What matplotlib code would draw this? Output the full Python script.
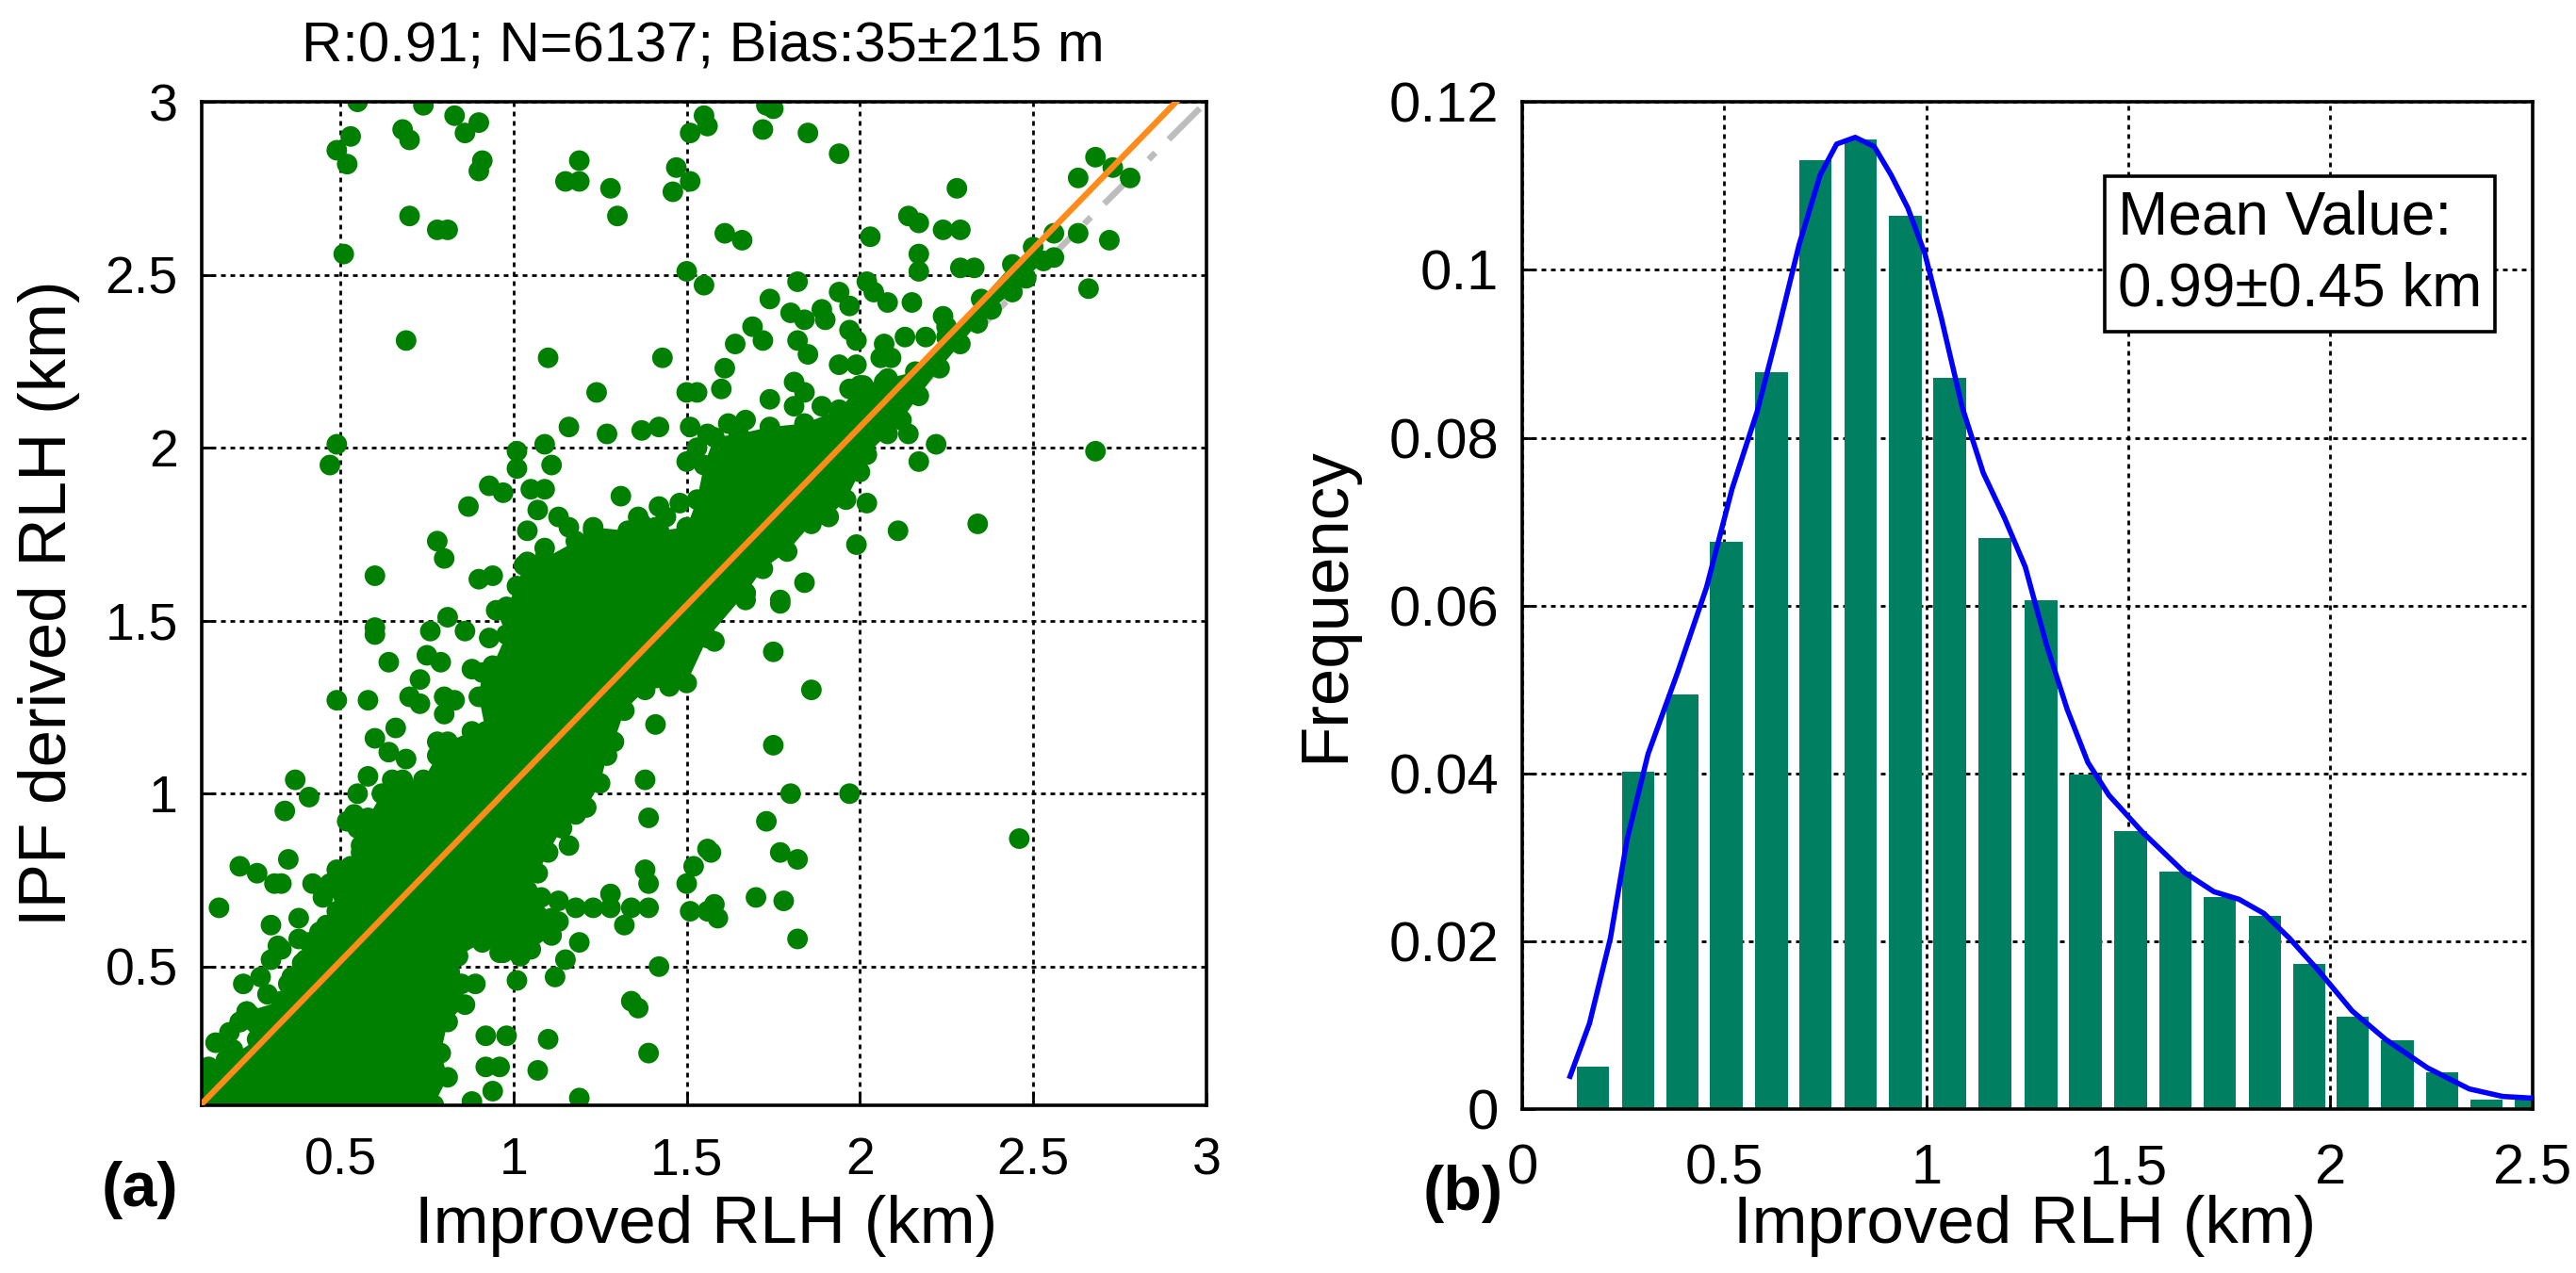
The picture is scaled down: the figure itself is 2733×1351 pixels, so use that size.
import numpy as np
import matplotlib
matplotlib.use("Agg")
import matplotlib.pyplot as plt

FONT = ['Liberation Sans', 'DejaVu Sans']

# ---------- (a) scatter: IPF derived RLH vs improved RLH (km) ----------
# outline of the saturated part of the point cloud (points overlap into a solid mass)
core_x = [0.10, 0.77, 0.81, 0.79, 0.81, 0.86, 0.85, 0.84, 0.91, 0.96, 1.05, 1.11, 1.13,
          1.04, 1.07, 1.10, 1.14, 1.18, 1.21, 1.25, 1.27, 1.29, 1.32, 1.38, 1.45, 1.50,
          1.56, 1.67, 1.72, 1.79, 1.86, 1.91, 1.96, 2.00, 2.02, 2.08, 2.12, 2.17, 2.23,
          2.29, 2.34, 2.38, 2.44, 2.48, 2.53, 2.50,
          2.44, 2.35, 2.25, 2.16, 2.08, 2.00, 1.94, 1.84, 1.74, 1.65, 1.58, 1.55, 1.53, 1.50,
          1.42, 1.33, 1.23, 1.18, 1.09, 1.03, 1.01, 0.98, 0.95, 0.98, 0.94, 0.91, 0.90, 0.92,
          0.88, 0.81, 0.78, 0.74, 0.68, 0.62, 0.58, 0.55, 0.56, 0.53, 0.49, 0.47, 0.49,
          0.46, 0.41, 0.39, 0.35, 0.33, 0.23, 0.21, 0.26, 0.17, 0.12, 0.10]
core_y = [0.10, 0.10, 0.18, 0.25, 0.34, 0.39, 0.45, 0.53, 0.57, 0.54, 0.55, 0.59, 0.63,
          0.72, 0.77, 0.83, 0.90, 0.94, 0.96, 1.03, 1.11, 1.15, 1.24, 1.30, 1.31, 1.32,
          1.45, 1.58, 1.65, 1.70, 1.78, 1.80, 1.85, 1.93, 1.98, 2.04, 2.08, 2.15, 2.23,
          2.30, 2.36, 2.40, 2.45, 2.49, 2.54, 2.58,
          2.53, 2.43, 2.32, 2.22, 2.20, 2.18, 2.11, 2.07, 2.06, 2.04, 2.03, 1.95, 1.85, 1.77,
          1.76, 1.76, 1.77, 1.73, 1.68, 1.66, 1.60, 1.54, 1.53, 1.46, 1.37, 1.35, 1.28, 1.18,
          1.18, 1.15, 1.11, 1.04, 1.04, 1.00, 0.93, 0.90, 0.83, 0.79, 0.78, 0.74, 0.66,
          0.62, 0.57, 0.51, 0.45, 0.40, 0.37, 0.34, 0.29, 0.23, 0.21, 0.17]

# individually visible points
pts_x = [0.55, 0.74, 0.68, 0.70, 0.53, 0.49, 0.52, 0.83, 0.90, 0.86, 0.91, 0.90, 0.70, 0.78,
         0.81, 0.51, 1.19, 1.15, 1.19, 1.28, 1.30, 1.47, 1.51, 1.46, 1.51, 1.55, 1.56, 1.50,
         1.55, 0.69, 1.10, 1.43, 1.24, 1.16, 1.27, 1.37, 1.42, 1.50, 1.53, 1.51, 1.53, 1.50,
         0.49, 0.47, 1.01, 1.01, 1.09, 1.11, 0.93, 0.97, 0.87, 1.05, 1.09, 1.07, 1.13, 1.16,
         1.04, 1.09, 1.31, 1.42, 1.48, 1.44, 1.36, 0.78, 0.80, 0.60, 0.90, 0.94, 1.04, 1.19,
         1.23, 1.26, 1.35, 1.41, 1.42, 1.47, 1.53, 1.56, 1.37, 1.33, 1.44,
         1.73, 1.75, 1.72, 1.85, 1.94, 1.61, 1.66, 1.82, 1.74, 2.03, 2.14, 2.17, 2.28, 2.24,
         2.29, 2.17, 2.17, 2.29, 2.33, 2.68, 2.63, 2.73, 2.78, 2.63, 2.56, 2.72, 2.56, 2.66,
         2.68, 2.34, 2.11, 1.99, 2.02, 2.22, 2.17, 2.14, 1.84, 1.77, 1.67,
         2.02, 2.04, 2.08, 2.15, 2.13, 2.19, 2.07, 2.06, 2.09, 2.24, 2.25, 1.94, 1.97, 1.89,
         1.90, 1.80, 1.84, 1.97, 1.99, 1.82, 1.85, 1.94, 1.99, 1.69, 1.72, 1.64, 1.61, 1.60,
         1.81, 1.84, 1.74, 1.81, 1.89, 1.97, 2.01, 2.07, 1.67, 1.62, 1.56, 1.94,
         0.60, 0.60, 0.64, 0.76, 0.81, 0.86, 0.93, 0.75, 0.79, 0.73, 0.70, 0.73, 0.80, 0.83,
         0.80, 0.88, 0.91, 0.49, 0.58, 0.66, 0.60, 0.64, 0.69, 0.78, 0.58, 0.65, 0.55, 0.54,
         0.52, 0.56, 0.37, 0.41, 0.34, 0.21, 0.26, 0.31, 0.35, 0.33, 0.42, 0.15, 0.30, 0.38,
         0.32, 0.30, 0.27, 0.22, 0.23, 0.21, 0.14, 0.12, 0.17, 0.26, 1.16, 1.39, 1.38, 1.39,
         1.38, 1.41, 1.50, 1.52, 1.56, 1.51, 1.56, 1.19, 1.15, 1.12, 1.42, 1.01, 0.89, 1.34,
         1.36, 0.92, 0.98, 0.92, 0.96, 0.94, 0.88, 1.10, 1.07, 1.19, 1.39, 0.97, 1.02, 1.08,
         1.13, 1.18, 1.23, 1.28, 1.28, 1.34, 1.39, 1.32, 1.11,
         1.58, 1.75, 1.86, 1.75, 1.80, 1.97, 1.73, 1.57, 1.77, 1.82, 1.70, 1.78, 1.58, 1.59,
         1.82, 2.46, 1.67, 1.77,
         0.18, 0.24, 0.29, 0.36, 0.40, 0.44, 0.28, 0.33, 0.38, 0.19, 0.45, 0.50]
pts_y = [3.00, 2.99, 2.92, 2.89, 2.90, 2.86, 2.82, 2.96, 2.94, 2.91, 2.83, 2.80, 2.67, 2.63,
         2.63, 2.56, 2.83, 2.77, 2.77, 2.75, 2.67, 2.81, 2.77, 2.74, 2.91, 2.96, 2.93, 2.51,
         2.47, 2.31, 2.26, 2.26, 2.16, 2.06, 2.04, 2.05, 2.06, 2.16, 2.16, 2.06, 2.00, 1.96,
         2.01, 1.95, 1.99, 1.94, 2.01, 1.95, 1.89, 1.87, 1.83, 1.88, 1.88, 1.82, 1.80, 1.77,
         1.76, 1.71, 1.86, 1.83, 1.84, 1.80, 1.80, 1.73, 1.68, 1.63, 1.62, 1.63, 1.67, 1.71,
         1.76, 1.67, 1.73, 1.77, 1.69, 1.67, 1.74, 1.84, 1.78, 1.63, 1.62,
         2.99, 2.98, 2.92, 2.91, 2.85, 2.62, 2.60, 2.48, 2.43, 2.61, 2.67, 2.65, 2.75, 2.63,
         2.63, 2.56, 2.51, 2.52, 2.52, 2.84, 2.78, 2.81, 2.78, 2.62, 2.62, 2.60, 2.55, 2.46,
         1.99, 1.78, 1.76, 1.72, 1.84, 2.01, 1.96, 2.04, 1.61, 1.56, 1.58,
         2.48, 2.45, 2.42, 2.42, 2.32, 2.32, 2.30, 2.26, 2.26, 2.38, 2.35, 2.45, 2.41, 2.40,
         2.37, 2.39, 2.37, 2.34, 2.31, 2.31, 2.27, 2.24, 2.24, 2.35, 2.31, 2.30, 2.23, 2.17,
         2.19, 2.16, 2.14, 2.12, 2.12, 2.17, 2.18, 2.19, 2.08, 2.07, 2.04, 2.08,
         1.48, 1.46, 1.38, 1.47, 1.51, 1.47, 1.45, 1.40, 1.38, 1.33, 1.28, 1.26, 1.28, 1.27,
         1.23, 1.36, 1.28, 1.27, 1.27, 1.19, 1.16, 1.12, 1.10, 1.15, 1.05, 1.04, 1.00, 0.94,
         0.92, 0.85, 1.04, 0.99, 0.95, 0.79, 0.77, 0.74, 0.81, 0.74, 0.74, 0.67, 0.62, 0.64,
         0.56, 0.52, 0.47, 0.45, 0.37, 0.34, 0.28, 0.20, 0.16, 0.12, 0.85, 0.93, 0.78, 0.74,
         1.04, 1.20, 0.74, 0.79, 0.84, 0.66, 0.66, 0.57, 0.52, 0.47, 0.50, 0.46, 0.45, 0.40,
         0.38, 0.30, 0.30, 0.21, 0.21, 0.14, 0.11, 0.29, 0.20, 0.12, 0.25, 0.54, 0.53, 0.70,
         0.69, 0.67, 0.67, 0.71, 0.67, 0.67, 0.67, 0.62, 0.64,
         1.44, 1.41, 1.30, 1.14, 1.00, 1.00, 0.92, 0.83, 0.83, 0.81, 0.70, 0.69, 0.68, 0.64,
         0.58, 0.87, 1.56, 1.55,
         0.31, 0.36, 0.42, 0.47, 0.52, 0.60, 0.27, 0.55, 0.58, 0.26, 0.70, 0.72]

fit_slope = 1.03
fit_intercept = 0.0
stats_title = "R:0.91; N=6137; Bias:35\u00b1215 m"

# ---------- (b) histogram of improved RLH ----------
bin_centers = [0.175, 0.286, 0.396, 0.505, 0.617, 0.726, 0.837, 0.948, 1.058, 1.170, 1.284,
               1.394, 1.506, 1.616, 1.726, 1.838, 1.948, 2.056, 2.166, 2.277, 2.386, 2.497]
freq = [0.0051, 0.0402, 0.0494, 0.0676, 0.0878, 0.1131, 0.1155, 0.1064, 0.0871, 0.0680,
        0.0606, 0.0399, 0.0331, 0.0283, 0.0253, 0.0230, 0.0173, 0.0110, 0.0082, 0.0044,
        0.0011, 0.0011]
kde_x = [0.118, 0.166, 0.218, 0.259, 0.311, 0.384, 0.456, 0.519, 0.581, 0.633, 0.685,
         0.737, 0.778, 0.824, 0.871, 0.913, 0.954, 0.996, 1.037, 1.089, 1.141, 1.193,
         1.245, 1.297, 1.349, 1.400, 1.452, 1.535, 1.639, 1.712, 1.774, 1.836, 1.898,
         1.971, 2.054, 2.137, 2.241, 2.344, 2.427, 2.500]
kde_y = [0.0039, 0.0102, 0.0204, 0.0321, 0.0423, 0.0520, 0.0622, 0.0739, 0.0831, 0.0928,
         0.1030, 0.1113, 0.1150, 0.1158, 0.1147, 0.1113, 0.1074, 0.1020, 0.0943, 0.0836,
         0.0758, 0.0705, 0.0646, 0.0554, 0.0476, 0.0413, 0.0374, 0.0330, 0.0282, 0.0259,
         0.0250, 0.0233, 0.0204, 0.0165, 0.0117, 0.0083, 0.0049, 0.0024, 0.0015, 0.0013]
mean_text = "Mean Value:\n0.99\u00b10.45 km"

plt.rcParams['font.family'] = FONT
fig = plt.figure(figsize=(13.665, 6.755), dpi=200)
grid_style = dict(color='black', linestyle=(0, (1.8, 1.8)), linewidth=1.0)

# ---- panel a ----
ax1 = fig.add_axes([0.0783, 0.132, 0.390, 0.788])
ax1.set_axisbelow(True)
ax1.grid(True, **grid_style)
ax1.plot([0.1, 3.0], [0.1, 3.0], color='#bdbdbd', lw=2.4, linestyle=(0, (7, 3, 1.5, 3)), zorder=1)
ax1.fill(core_x, core_y, color='#008000', lw=0, zorder=2)
ax1.scatter(core_x, core_y, s=62, color='#008000', edgecolors='none', zorder=2)
ax1.scatter(pts_x, pts_y, s=62, color='#008000', edgecolors='none', zorder=2)
fx = np.array([0.1, 3.0])
ax1.plot(fx, fit_intercept + fit_slope * fx, color='#ff8c1a', lw=2.3, zorder=3)
ax1.set_xlim(0.1, 3.0)
ax1.set_ylim(0.1, 3.0)
ticks_a = [0.5, 1, 1.5, 2, 2.5, 3]
ticklab_a = ['0.5', '1', '1.5', '2', '2.5', '3']
ax1.set_xticks(ticks_a)
ax1.set_xticklabels(ticklab_a, fontsize=20)
ax1.set_yticks(ticks_a)
ax1.set_yticklabels(ticklab_a, fontsize=20)
ax1.tick_params(axis='x', direction='in', length=5, width=1, pad=12)
ax1.tick_params(axis='y', direction='in', length=5, width=1, pad=9)
for sp in ax1.spines.values():
    sp.set_linewidth(1.3)
fig.text(0.273, 0.964, stats_title, fontsize=21.5, ha='center', va='center')
fig.text(0.274, 0.037, 'Improved RLH (km)', fontsize=25.5, ha='center', va='center')
fig.text(0.019, 0.526, 'IPF derived RLH (km)', fontsize=25.5, ha='center', va='center', rotation=90)
fig.text(0.0395, 0.065, '(a)', fontsize=24, fontweight='bold', ha='left', va='center')

# ---- panel b ----
ax2 = fig.add_axes([0.591, 0.1288, 0.392, 0.791])
ax2.set_axisbelow(True)
ax2.grid(True, **grid_style)
ax2.bar(bin_centers, freq, width=0.08, color='#008060', zorder=2)
ax2.plot(kde_x, kde_y, color='#0000ff', lw=2.0, zorder=3)
ax2.set_xlim(0, 2.5)
ax2.set_ylim(0, 0.12)
ax2.set_xticks([0, 0.5, 1, 1.5, 2, 2.5])
ax2.set_xticklabels(['0', '0.5', '1', '1.5', '2', '2.5'], fontsize=21.5)
ax2.set_yticks([0, 0.02, 0.04, 0.06, 0.08, 0.1, 0.12])
ax2.set_yticklabels(['0', '0.02', '0.04', '0.06', '0.08', '0.1', '0.12'], fontsize=21.5)
ax2.tick_params(axis='x', direction='in', length=5, width=1, pad=13)
ax2.tick_params(axis='y', direction='in', length=5, width=1, pad=9)
for sp in ax2.spines.values():
    sp.set_linewidth(1.3)
ax2.text(1.474, 0.1019, mean_text, fontsize=23, ha='left', va='center',
         linespacing=1.35, zorder=5,
         bbox=dict(boxstyle='square,pad=0.22', fc='white', ec='black', lw=1.3))
fig.text(0.786, 0.037, 'Improved RLH (km)', fontsize=25.5, ha='center', va='center')
fig.text(0.515, 0.525, 'Frequency', fontsize=25.5, ha='center', va='center', rotation=90)
fig.text(0.5525, 0.062, '(b)', fontsize=24, fontweight='bold', ha='left', va='center')

fig.savefig('out.png', dpi=200)
